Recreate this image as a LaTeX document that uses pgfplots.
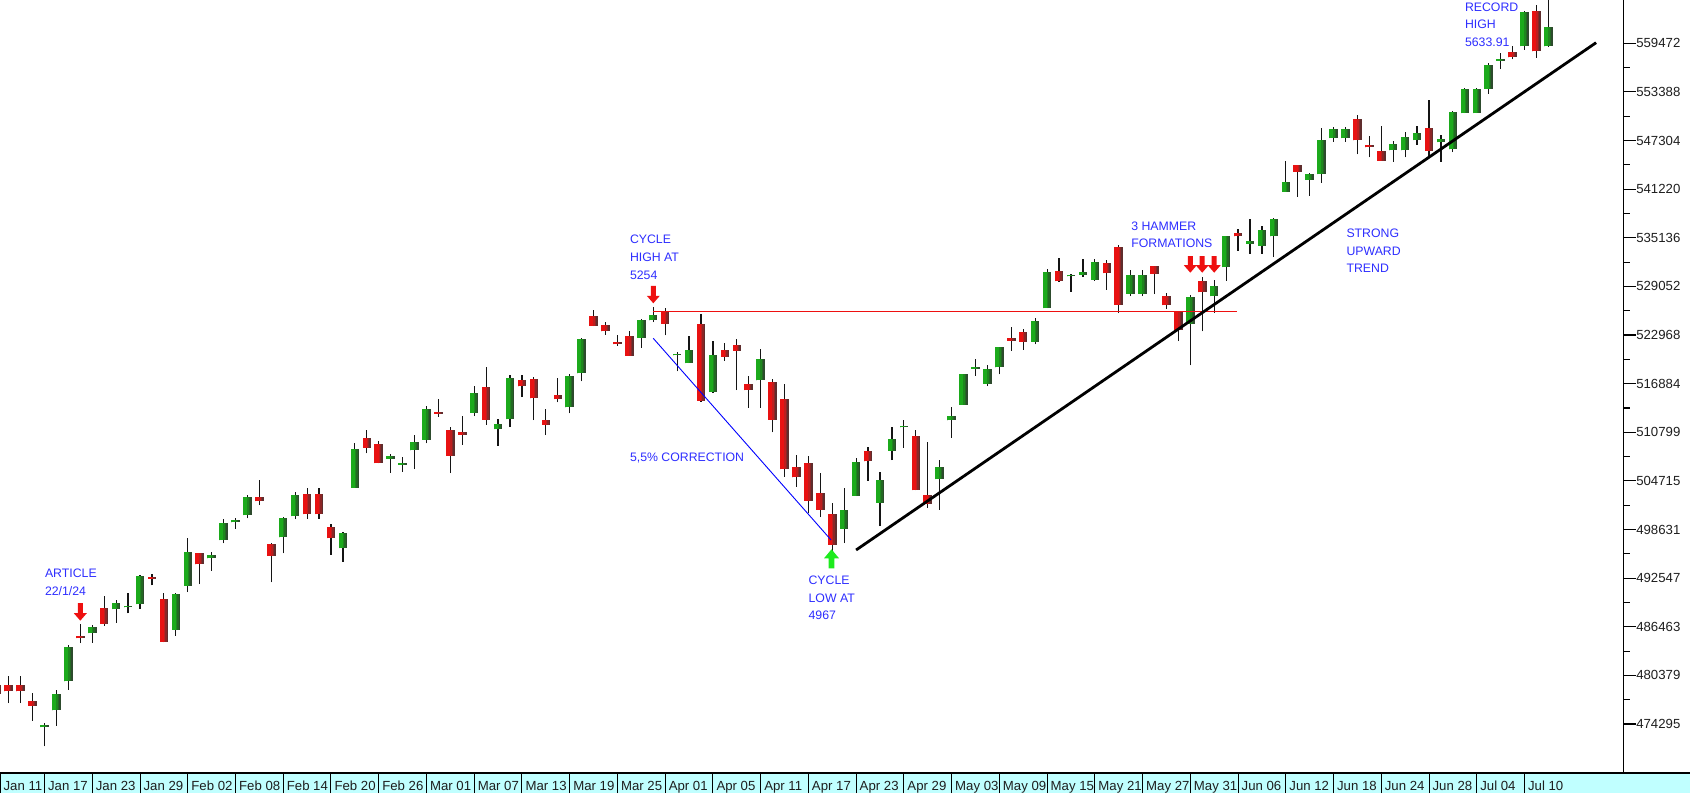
\documentclass[border=0pt]{standalone}
\usepackage{pgfplots}
\pgfplotsset{compat=1.18}
\usepackage{pgfplotstable}
\usepackage{fontspec}
\setmainfont{Liberation Sans}

\definecolor{gbright}{RGB}{28,170,28}
\definecolor{gmidA}{RGB}{30,135,30}
\definecolor{gmidB}{RGB}{35,105,35}
\definecolor{gdark}{RGB}{45,75,45}
\definecolor{rbright}{RGB}{232,18,18}
\definecolor{rmidA}{RGB}{190,30,30}
\definecolor{rmidB}{RGB}{140,38,38}
\definecolor{rdark}{RGB}{95,45,45}
\definecolor{wick}{RGB}{20,20,20}
\definecolor{stripc}{RGB}{192,255,255}
\definecolor{annblue}{RGB}{45,45,255}
\definecolor{arrred}{RGB}{238,16,16}
\definecolor{arrgreen}{RGB}{30,235,30}
\definecolor{labgray}{RGB}{30,30,30}

\pgfplotstableread{
x o h l c
0 4792.13 4798.50 4739.58 4780.24
1 4791.18 4802.40 4768.98 4783.83
2 4791.18 4802.40 4768.98 4783.83
3 4772.35 4782.34 4747.12 4765.98
4 4739.13 4744.23 4714.82 4739.21
5 4760.10 4785.79 4740.57 4780.94
6 4796.28 4842.07 4785.87 4839.81
7 4853.42 4868.41 4844.05 4850.43
8 4856.80 4866.48 4844.37 4864.60
9 4888.56 4903.68 4865.94 4868.55
10 4886.66 4898.15 4869.34 4894.16
11 4888.91 4906.69 4881.47 4890.97
12 4892.95 4929.31 4887.40 4927.93
13 4925.89 4931.09 4916.27 4924.97
14 4899.19 4906.75 4845.15 4845.65
15 4861.11 4906.97 4853.52 4906.19
16 4916.06 4975.29 4907.99 4958.61
17 4957.19 4957.19 4918.09 4942.81
18 4950.16 4957.77 4934.88 4954.23
19 4973.05 4999.89 4969.05 4995.06
20 4995.16 5000.40 4987.09 4997.91
21 5004.17 5030.06 5000.34 5026.61
22 5026.83 5048.39 5016.83 5021.84
23 4967.94 4969.95 4920.31 4953.17
24 4976.44 5002.52 4956.45 5000.62
25 5003.14 5032.72 4999.44 5029.73
26 5031.13 5038.70 4999.52 5005.57
27 5031.13 5038.70 4999.52 5005.57
28 4989.32 4993.71 4955.02 4975.51
29 4963.03 4983.21 4946.00 4981.80
30 5038.83 5094.39 5038.83 5087.03
31 5100.92 5111.06 5081.46 5088.80
32 5093.00 5097.66 5068.91 5069.53
33 5074.60 5080.69 5057.29 5078.18
34 5067.20 5077.37 5058.35 5069.76
35 5085.36 5104.99 5061.89 5096.27
36 5098.51 5140.33 5094.16 5137.08
37 5130.99 5149.67 5127.18 5130.95
38 5110.52 5114.54 5056.82 5078.65
39 5108.03 5127.97 5092.22 5104.76
40 5132.38 5165.62 5128.21 5157.36
41 5164.46 5189.26 5117.50 5123.69
42 5111.96 5124.66 5091.14 5117.94
43 5124.37 5179.87 5114.48 5175.27
44 5173.49 5179.14 5151.88 5165.31
45 5175.14 5176.85 5123.30 5150.48
46 5123.31 5136.86 5104.35 5117.09
47 5154.77 5175.60 5145.47 5149.42
48 5139.09 5180.31 5131.59 5178.51
49 5181.69 5226.19 5171.55 5224.62
50 5253.43 5261.10 5240.66 5241.53
51 5242.48 5246.09 5229.87 5234.18
52 5219.52 5229.09 5216.09 5218.19
53 5228.85 5235.16 5203.42 5203.58
54 5226.31 5249.26 5213.92 5248.49
55 5248.03 5264.85 5245.82 5254.35
56 5257.97 5263.95 5229.20 5243.77
57 5204.29 5208.34 5184.05 5205.81
58 5194.37 5228.75 5194.37 5211.49
59 5244.05 5256.59 5146.06 5147.21
60 5158.95 5222.18 5157.21 5204.34
61 5211.37 5219.57 5197.35 5202.39
62 5217.03 5224.81 5160.78 5209.91
63 5167.88 5178.43 5138.70 5160.64
64 5172.95 5211.78 5138.77 5199.06
65 5171.51 5175.03 5107.94 5123.41
66 5149.67 5168.43 5052.47 5061.82
67 5064.59 5079.84 5039.83 5051.41
68 5068.97 5077.96 5007.25 5022.21
69 5031.52 5056.66 5001.89 5011.12
70 5005.44 5019.02 4953.56 4967.23
71 4987.33 5038.84 4969.40 5010.60
72 5028.85 5076.12 5027.96 5070.55
73 5084.86 5089.48 5047.02 5071.63
74 5019.88 5057.75 4990.58 5048.42
75 5084.65 5114.62 5073.14 5099.96
76 5114.13 5123.49 5088.65 5116.17
77 5103.78 5110.83 5035.31 5035.69
78 5029.03 5096.12 5013.45 5018.39
79 5049.32 5073.21 5011.05 5064.20
80 5122.78 5139.12 5101.22 5127.79
81 5142.42 5181.00 5142.42 5180.74
82 5187.20 5200.23 5178.96 5187.70
83 5168.98 5191.95 5165.86 5187.67
84 5189.31 5215.30 5180.41 5214.08
85 5225.49 5239.66 5209.68 5222.68
86 5233.08 5237.26 5211.16 5221.42
87 5221.10 5250.37 5217.98 5246.68
88 5263.26 5311.76 5263.26 5308.15
89 5310.07 5325.49 5296.19 5297.10
90 5303.10 5305.45 5283.59 5303.27
91 5305.35 5325.32 5302.40 5308.13
92 5298.69 5324.32 5297.87 5321.41
93 5319.28 5323.18 5286.01 5307.01
94 5340.26 5341.88 5256.93 5267.84
95 5281.45 5311.65 5278.39 5304.72
96 5281.45 5311.65 5278.39 5304.72
97 5315.91 5315.91 5280.89 5306.04
98 5278.73 5282.27 5262.70 5266.95
99 5259.77 5260.21 5222.10 5235.48
100 5243.21 5280.33 5191.68 5277.51
101 5297.15 5302.11 5234.32 5283.40
102 5278.24 5298.80 5257.63 5291.34
103 5314.48 5354.16 5297.64 5354.03
104 5357.80 5362.35 5335.36 5352.96
105 5343.81 5375.08 5331.33 5346.99
106 5341.22 5365.79 5331.52 5360.79
107 5353.00 5375.95 5327.25 5375.32
108 5409.13 5447.25 5409.13 5421.03
109 5441.93 5441.93 5402.51 5433.74
110 5424.08 5432.39 5403.75 5431.60
111 5431.11 5488.50 5420.40 5473.23
112 5476.15 5490.38 5471.32 5487.03
113 5476.15 5490.38 5471.32 5487.03
114 5499.99 5505.53 5455.56 5473.17
115 5466.77 5478.31 5452.03 5464.62
116 5459.58 5490.66 5447.59 5447.87
117 5460.73 5472.88 5446.56 5469.30
118 5460.71 5483.14 5451.87 5477.90
119 5473.59 5490.81 5467.54 5482.87
120 5488.48 5523.64 5451.12 5460.48
121 5471.08 5479.55 5446.53 5475.09
122 5461.84 5509.69 5458.43 5509.01
123 5507.44 5539.27 5507.42 5537.02
124 5507.44 5539.27 5507.42 5537.02
125 5537.91 5570.33 5531.63 5567.19
126 5572.75 5583.11 5562.51 5572.85
127 5584.24 5590.75 5574.57 5576.98
128 5591.26 5635.39 5586.44 5633.91
129 5635.21 5642.45 5576.53 5584.54
130 5590.76 5655.56 5590.44 5615.35
}\ohlc

\newcommand{\bodyplot}[4]{%
 \addplot[draw=none, mark=none, forget plot,
   restrict expr to domain={\thisrow{c}-\thisrow{o}}{#1},
   error bars/.cd, y dir=plus, y explicit, error mark=none,
   error bar style={line width=#3, draw=#2, line cap=butt}]
   table[x expr={\thisrow{x}+(#4)}, y expr={min(\thisrow{o},\thisrow{c})},
         y error expr={max(abs(\thisrow{c}-\thisrow{o}),2.2)}] {\ohlc};
}

\newcommand{\annfont}{\fontsize{6.15pt}{7pt}\selectfont}
\newcommand{\tickfont}{\fontsize{6.6pt}{7pt}\selectfont}

\newcommand{\downarr}[4]{%
 \fill[#3] ({#1-2.5},{#2-#4}) -- ({#1+2.5},{#2-#4}) -- ({#1+2.5},{#2-7.5}) -- ({#1+6.5},{#2-7.5}) -- (#1,#2) -- ({#1-6.5},{#2-7.5}) -- ({#1-2.5},{#2-7.5}) -- cycle;}
\newcommand{\uparr}[4]{%
 \fill[#3] ({#1-2.8},{#2+#4}) -- ({#1+2.8},{#2+#4}) -- ({#1+2.8},{#2+9}) -- ({#1+7.5},{#2+9}) -- (#1,#2) -- ({#1-7.5},{#2+9}) -- ({#1-2.8},{#2+9}) -- cycle;}

\begin{document}
\begin{tikzpicture}
\useasboundingbox (0pt,-10.15pt) rectangle (845pt,386.35pt);

% date strip
\begin{axis}[
  at={(0pt,0pt)}, anchor=north west,
  scale only axis, width=845pt, height=10.15pt,
  xmin=0.268, xmax=141.868, ymin=0, ymax=1,
  axis background/.style={fill=stripc},
  axis line style={draw=none},
  ytick=\empty,
  xtick={0.268,4,8,12,16,20,24,28,32,36,40,44,48,52,56,60,64,68,72,76,80,84,88,92,96,100,104,108,112,116,120,124,128},
  xticklabels={Jan 11,Jan 17,Jan 23,Jan 29,Feb 02,Feb 08,Feb 14,Feb 20,Feb 26,Mar 01,Mar 07,Mar 13,Mar 19,Mar 25,Apr 01,Apr 05,Apr 11,Apr 17,Apr 23,Apr 29,May 03,May 09,May 15,May 21,May 27,May 31,Jun 06,Jun 12,Jun 18,Jun 24,Jun 28,Jul 04,Jul 10},
  xtick pos=bottom,
  tick align=inside,
  major tick length=10.15pt,
  tick style={black, line width=0.5pt},
  xticklabel style={font=\tickfont, text=labgray, anchor=base west, inner sep=0pt, xshift=1.6pt, yshift=1.5pt},
]
\end{axis}

% main chart
\begin{axis}[
  at={(0pt,0pt)}, anchor=south west,
  scale only axis, width=811.75pt, height=386.35pt,
  xmin=0.268, xmax=136.296, ymin=4682.0, ymax=5648.9,
  axis line style={draw=none},
  xtick=\empty,
  ytick={4742.95,4803.79,4864.63,4925.47,4986.31,5047.15,5107.99,5168.84,5229.68,5290.52,5351.36,5412.20,5473.04,5533.88,5594.72},
  yticklabels={474295,480379,486463,492547,498631,504715,510799,516884,522968,529052,535136,541220,547304,553388,559472},
  minor ytick={4773.37,4834.21,4895.05,4955.89,5016.73,5077.57,5138.41,5199.26,5260.10,5320.94,5381.78,5442.62,5503.46,5564.30},
  ytick pos=right, yticklabel pos=right,
  tick align=outside,
  major tick length=6.2pt, minor tick length=3.2pt,
  tick style={black, line width=0.55pt},
  yticklabel style={font=\tickfont, text=labgray, anchor=west, inner sep=0pt},
]
% wicks
\addplot[draw=none, mark=none, forget plot,
  error bars/.cd, y dir=plus, y explicit, error mark=none,
  error bar style={line width=0.6pt, draw=wick, line cap=butt}]
  table[x=x, y=l, y error expr={\thisrow{h}-\thisrow{l}}] {\ohlc};
% green bodies
\bodyplot{0:100000}{gdark}{4.25pt}{0}
\bodyplot{0:100000}{gmidB}{3.475pt}{-0.0649}
\bodyplot{0:100000}{gmidA}{2.725pt}{-0.1278}
\bodyplot{0:100000}{gbright}{2.025pt}{-0.1864}
% red bodies
\bodyplot{-100000:-0.00001}{rdark}{4.25pt}{0}
\bodyplot{-100000:-0.00001}{rmidB}{3.475pt}{-0.0649}
\bodyplot{-100000:-0.00001}{rmidA}{2.725pt}{-0.1278}
\bodyplot{-100000:-0.00001}{rbright}{2.025pt}{-0.1864}
% resistance line at the cycle high
\addplot[arrred, line width=0.6pt] coordinates {(55,5259.5) (103.9,5259.5)};
% correction line
\addplot[blue, line width=0.45pt] coordinates {(55,5225.6) (69.9,4973.2)};
% trend line
\addplot[black, line width=1.4pt] coordinates {(72,4960.7) (134,5595.5)};
\end{axis}

% frame lines
\draw[black, line width=1pt] (0pt,0pt) -- (845pt,0pt);
\draw[black, line width=0.55pt] (811.75pt,0pt) -- (811.75pt,386.35pt);

% annotations (pixel coordinates from top-left)
\begin{scope}[x=0.5pt, y=-0.5pt, shift={(0pt,386.35pt)}]
\begin{scope}[every node/.style={anchor=base west, inner sep=0pt, text=annblue, font=\annfont}]
\node at (44.6,577.8) {ARTICLE};
\node at (44.6,595.5) {22/1/24};
\node at (629.6,243.8) {CYCLE};
\node at (629.6,261.5) {HIGH AT};
\node at (629.6,279.2) {5254};
\node at (629.6,461.8) {5,5\% CORRECTION};
\node at (808.2,584.3) {CYCLE};
\node at (808.2,602.0) {LOW AT};
\node at (808.2,619.7) {4967};
\node at (1130.9,230.5) {3 HAMMER};
\node at (1130.9,247.8) {FORMATIONS};
\node at (1346.1,237.8) {STRONG};
\node at (1346.1,255.2) {UPWARD};
\node at (1346.1,272.8) {TREND};
\node at (1464.6,11.2) {RECORD};
\node at (1464.6,28.8) {HIGH};
\node at (1464.6,46.5) {5633.91};
\end{scope}
\downarr{80.3}{620.7}{arrred}{17.5}
\downarr{653.3}{303.3}{arrred}{17.5}
\downarr{1190.3}{272.7}{arrred}{16.5}
\downarr{1202.2}{272.7}{arrred}{16.5}
\downarr{1214.2}{272.7}{arrred}{16.5}
\uparr{831.5}{549.3}{arrgreen}{19}
\end{scope}
\end{tikzpicture}
\end{document}
